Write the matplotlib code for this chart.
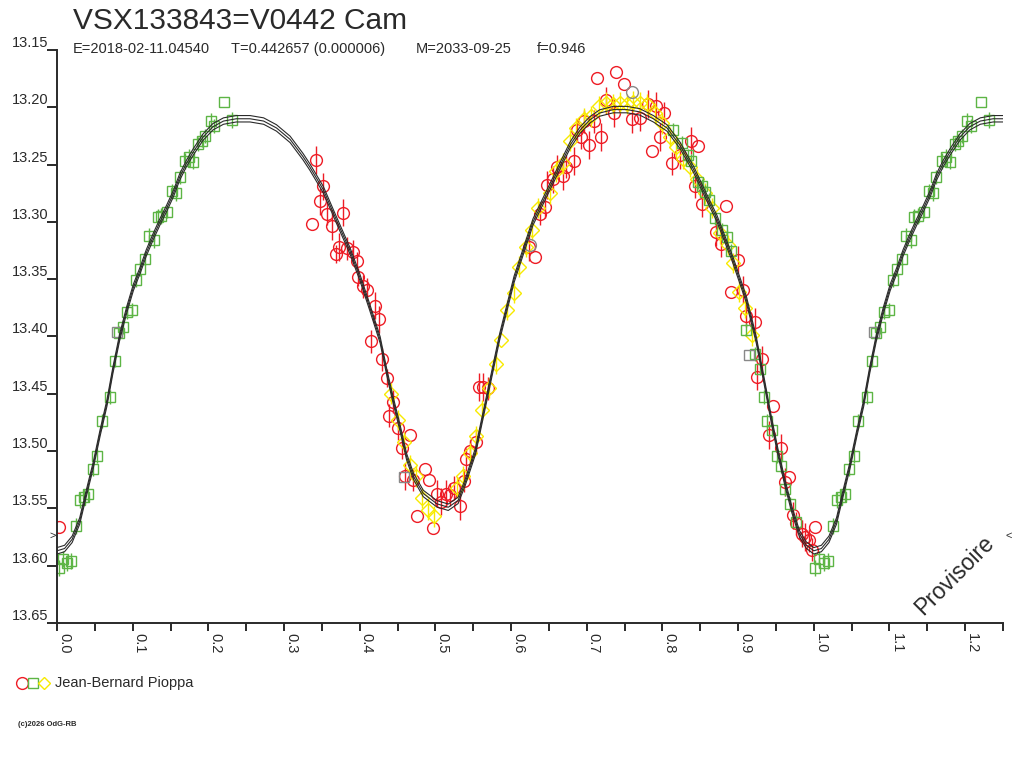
import numpy as np
import matplotlib
matplotlib.use('Agg')
import matplotlib.pyplot as plt

plt.rcParams['font.family'] = ['Liberation Sans', 'DejaVu Sans']

# ─── DATA ────────────────────────────────────────────
# fitted light curve (phase, mag), one cycle
curve_phase = [0.000, 0.010, 0.020, 0.030, 0.039, 0.048, 0.057, 0.066, 0.074, 0.083,
               0.092, 0.101, 0.110, 0.118, 0.127, 0.136, 0.145, 0.154, 0.162, 0.171,
               0.180, 0.193, 0.206, 0.220, 0.237, 0.255, 0.273, 0.290, 0.308, 0.325,
               0.334, 0.352, 0.369, 0.387, 0.400, 0.413, 0.427, 0.436, 0.444, 0.453,
               0.462, 0.471, 0.484, 0.502, 0.517, 0.530, 0.539, 0.553, 0.569, 0.585,
               0.604, 0.629, 0.664, 0.678, 0.691, 0.704, 0.717, 0.735, 0.753, 0.770,
               0.788, 0.806, 0.823, 0.841, 0.858, 0.872, 0.893, 0.911, 0.924, 0.935,
               0.944, 0.953, 0.962, 0.971, 0.981, 0.990, 1.000]
curve_mag = [13.587, 13.585, 13.577, 13.561, 13.536, 13.512, 13.484, 13.458, 13.429, 13.400,
             13.377, 13.357, 13.342, 13.327, 13.313, 13.300, 13.288, 13.275, 13.261, 13.249,
             13.239, 13.226, 13.217, 13.212, 13.210, 13.210, 13.212, 13.218, 13.228, 13.243,
             13.252, 13.272, 13.298, 13.325, 13.348, 13.374, 13.403, 13.432, 13.455, 13.479,
             13.505, 13.522, 13.537, 13.546, 13.549, 13.543, 13.528, 13.500, 13.450, 13.400,
             13.350, 13.300, 13.252, 13.233, 13.220, 13.211, 13.205, 13.202, 13.202, 13.204,
             13.210, 13.218, 13.233, 13.254, 13.278, 13.297, 13.333, 13.368, 13.403, 13.441,
             13.473, 13.502, 13.528, 13.551, 13.572, 13.582, 13.587]
curve_spread = 0.0028

red_phase = [0.002, 0.337, 0.342, 0.347, 0.352, 0.357, 0.363, 0.369, 0.373, 0.378,
             0.383, 0.391, 0.396, 0.398, 0.404, 0.410, 0.415, 0.420, 0.425, 0.430,
             0.436, 0.439, 0.444, 0.450, 0.456, 0.460, 0.466, 0.471, 0.476, 0.486,
             0.492, 0.497, 0.502, 0.508, 0.514, 0.519, 0.525, 0.533, 0.538, 0.541,
             0.546, 0.553, 0.557, 0.563, 0.570, 0.624, 0.631, 0.638, 0.645, 0.648,
             0.655, 0.661, 0.668, 0.673, 0.683, 0.687, 0.693, 0.697, 0.703, 0.710,
             0.714, 0.719, 0.725, 0.736, 0.739, 0.749, 0.760, 0.771, 0.781, 0.786,
             0.792, 0.797, 0.802, 0.812, 0.823, 0.838, 0.843, 0.847, 0.852, 0.871,
             0.878, 0.884, 0.890, 0.900, 0.907, 0.910, 0.922, 0.925, 0.932, 0.941,
             0.946, 0.956, 0.962, 0.967, 0.973, 0.977, 0.984, 0.989, 0.994, 0.998]
red_mag = [13.566, 13.302, 13.246, 13.282, 13.269, 13.293, 13.304, 13.328, 13.322, 13.292,
           13.323, 13.326, 13.334, 13.348, 13.356, 13.359, 13.404, 13.373, 13.385, 13.420,
           13.436, 13.469, 13.457, 13.480, 13.497, 13.522, 13.486, 13.525, 13.557, 13.516,
           13.525, 13.567, 13.537, 13.544, 13.537, 13.538, 13.532, 13.548, 13.526, 13.507,
           13.500, 13.492, 13.444, 13.444, 13.445, 13.322, 13.331, 13.293, 13.287, 13.268,
           13.263, 13.252, 13.260, 13.252, 13.247, 13.220, 13.226, 13.212, 13.233, 13.212,
           13.174, 13.226, 13.194, 13.205, 13.169, 13.180, 13.210, 13.209, 13.197, 13.238,
           13.199, 13.226, 13.205, 13.249, 13.242, 13.229, 13.269, 13.234, 13.284, 13.309,
           13.319, 13.286, 13.361, 13.333, 13.359, 13.382, 13.387, 13.435, 13.420, 13.486,
           13.461, 13.497, 13.527, 13.523, 13.556, 13.563, 13.572, 13.575, 13.578, 13.586]
red_err = [0, 0, 0.012, 0.012, 0.012, 0.010, 0.012, 0.008, 0.012, 0.012,
           0.010, 0.010, 0.008, 0.008, 0.010, 0.010, 0.010, 0.012, 0.012, 0.010,
           0.008, 0.010, 0.010, 0.010, 0.010, 0.012, 0, 0.010, 0, 0,
           0, 0, 0.012, 0.012, 0.012, 0.010, 0.010, 0.012, 0.010, 0.010,
           0.010, 0.010, 0.012, 0.012, 0.010, 0.012, 0, 0.010, 0.010, 0.012,
           0.012, 0.010, 0.012, 0.010, 0.012, 0.010, 0.010, 0.010, 0.012, 0.010,
           0, 0.012, 0.012, 0.012, 0, 0, 0.012, 0.012, 0.012, 0,
           0.012, 0.012, 0.010, 0.010, 0.012, 0.012, 0.010, 0, 0.012, 0.012,
           0.012, 0, 0, 0.012, 0.012, 0.010, 0.012, 0.012, 0.012, 0.012,
           0, 0.012, 0.012, 0, 0.012, 0.010, 0.012, 0.012, 0.010, 0.010]

green_phase = [0.002, 0.0075, 0.013, 0.0185, 0.025, 0.030, 0.036, 0.041, 0.047, 0.053,
               0.059, 0.070, 0.077, 0.082, 0.087, 0.093, 0.099, 0.104, 0.110, 0.116,
               0.122, 0.128, 0.133, 0.138, 0.145, 0.152, 0.157, 0.162, 0.169, 0.175,
               0.180, 0.186, 0.191, 0.196, 0.203, 0.208, 0.221, 0.231,
               0.814, 0.826, 0.834, 0.838, 0.847, 0.852, 0.856, 0.862, 0.869, 0.879,
               0.885, 0.891, 0.911, 0.922, 0.929, 0.934, 0.938, 0.945, 0.951, 0.956,
               0.962, 0.968, 0.977]
green_mag = [13.602, 13.594, 13.598, 13.596, 13.565, 13.543, 13.540, 13.537, 13.516, 13.504,
             13.474, 13.453, 13.421, 13.397, 13.392, 13.379, 13.377, 13.351, 13.341, 13.332,
             13.312, 13.316, 13.296, 13.295, 13.291, 13.273, 13.275, 13.261, 13.247, 13.243,
             13.248, 13.232, 13.229, 13.225, 13.212, 13.216, 13.195, 13.211,
             13.220, 13.231, 13.242, 13.247, 13.265, 13.269, 13.274, 13.281, 13.297, 13.307,
             13.313, 13.325, 13.394, 13.415, 13.428, 13.453, 13.474, 13.482, 13.504, 13.513,
             13.533, 13.546, 13.562]
green_err = [0.007, 0.007, 0.007, 0.007, 0.007, 0.007, 0.007, 0.007, 0.006, 0.006,
             0.006, 0.006, 0.006, 0.006, 0.006, 0.006, 0.006, 0.006, 0.006, 0.006,
             0.007, 0.007, 0.007, 0.007, 0.006, 0.006, 0.007, 0.006, 0.007, 0.007,
             0.006, 0.006, 0.006, 0.006, 0.007, 0.006, 0, 0.007,
             0.006, 0.006, 0.006, 0.006, 0.006, 0.006, 0.006, 0.006, 0.006, 0.006,
             0.006, 0.006, 0.006, 0.006, 0.006, 0.006, 0.006, 0.006, 0.006, 0.006,
             0.006, 0.006, 0.006]

yellow_phase = [0.441, 0.450, 0.459, 0.467, 0.475, 0.482, 0.490, 0.498, 0.528, 0.537,
                0.546, 0.554, 0.562, 0.571, 0.580, 0.587, 0.595, 0.604, 0.611, 0.620,
                0.627, 0.636, 0.651, 0.660, 0.669, 0.678, 0.686, 0.696, 0.705, 0.716,
                0.726, 0.735, 0.744, 0.753, 0.761, 0.770, 0.779, 0.790, 0.799, 0.810,
                0.818, 0.827, 0.836, 0.846, 0.856, 0.865, 0.876, 0.887, 0.893, 0.901,
                0.909, 0.918]
yellow_mag = [13.450, 13.473, 13.492, 13.512, 13.522, 13.541, 13.551, 13.557, 13.532, 13.522,
              13.502, 13.487, 13.464, 13.445, 13.424, 13.403, 13.377, 13.362, 13.339, 13.322,
              13.307, 13.288, 13.275, 13.256, 13.249, 13.229, 13.218, 13.210, 13.208, 13.199,
              13.196, 13.197, 13.196, 13.197, 13.195, 13.196, 13.197, 13.205, 13.214, 13.226,
              13.235, 13.245, 13.252, 13.263, 13.275, 13.288, 13.310, 13.320, 13.336, 13.361,
              13.375, 13.399]
yellow_err = [0.009, 0.009, 0.009, 0.009, 0.009, 0.009, 0.009, 0.009, 0.009, 0.009,
              0.009, 0.009, 0.009, 0.009, 0.009, 0, 0.009, 0.009, 0.009, 0.009,
              0.009, 0.009, 0.009, 0.009, 0.009, 0.009, 0.009, 0.009, 0.009, 0.009,
              0.009, 0.009, 0.009, 0.009, 0.009, 0.009, 0.009, 0.009, 0.009, 0.009,
              0.009, 0.009, 0.009, 0.009, 0.009, 0.009, 0.009, 0.009, 0.009, 0.009,
              0.009, 0.009]

grey_sq_phase = [0.079, 0.458, 0.915]
grey_sq_mag = [13.396, 13.523, 13.416]
grey_ci_phase = [0.625, 0.760]
grey_ci_mag = [13.320, 13.187]

x_ticks = np.arange(0, 1.2501, 0.05)
x_labels = ['0.0', '0.1', '0.2', '0.3', '0.4', '0.5', '0.6', '0.7', '0.8', '0.9', '1.0', '1.1', '1.2']
y_ticks = np.arange(13.15, 13.6501, 0.05)

RED = '#ee1c25'
GREEN = '#5db545'
YELLOW = '#f7ea00'
GREY = '#888888'
INK = '#2a2a2a'


def wrap(ph, mg, err=None, upto=0.28):
    # phases before 0.28 are shown again one cycle later
    ph = np.asarray(ph, float)
    mg = np.asarray(mg, float)
    sel = ph <= upto
    ph2 = np.concatenate([ph, ph[sel] + 1.0])
    mg2 = np.concatenate([mg, mg[sel]])
    if err is None:
        return ph2, mg2
    err = np.asarray(err, float)
    return ph2, mg2, np.concatenate([err, err[sel]])


# ─── FIGURE ──────────────────────────────────────────
fig = plt.figure(figsize=(10.24, 7.68), dpi=100)
ax = fig.add_axes([57 / 1024, 1 - 623 / 768, 946 / 1024, 573 / 768])

series = [
    (red_phase, red_mag, red_err, RED, 'o', 8.5),
    (yellow_phase, yellow_mag, yellow_err, YELLOW, 'D', 6.8),
    (green_phase, green_mag, green_err, GREEN, 's', 7.0),
]
for ph, mg, er, col, mk, ms in series:
    p, m, e = wrap(ph, mg, er)
    has = e > 0
    ax.errorbar(p[has], m[has], yerr=e[has], fmt='none', ecolor=col, elinewidth=1.0, zorder=2)
    ax.plot(p, m, linestyle='none', marker=mk, ms=ms, mfc='none', mec=col, mew=1.0, zorder=2)

p, m = wrap(grey_sq_phase, grey_sq_mag)
ax.plot(p, m, linestyle='none', marker='s', ms=7, mfc='none', mec=GREY, mew=1.0, zorder=2)
p, m = wrap(grey_ci_phase, grey_ci_mag)
ax.plot(p, m, linestyle='none', marker='o', ms=8.5, mfc='none', mec=GREY, mew=1.0, zorder=2)

# model curve with its envelope
cp, cm = wrap(curve_phase[:-1], curve_mag[:-1], upto=0.26)
order = np.argsort(cp)
cp, cm = cp[order], cm[order]
for off in (-curve_spread, 0.0, curve_spread):
    ax.plot(cp, cm + off, color=INK, lw=0.8, zorder=3)

ax.set_xlim(0, 1.25)
ax.set_ylim(13.65, 13.15)

for s in ['top', 'right']:
    ax.spines[s].set_visible(False)
for s in ['left', 'bottom']:
    ax.spines[s].set_color(INK)
    ax.spines[s].set_linewidth(1.4)

ax.set_xticks(x_ticks)
ax.set_yticks(y_ticks)
ax.tick_params(axis='x', direction='out', length=6, width=1.4, color=INK, labelbottom=False)
ax.tick_params(axis='y', direction='out', length=7.5, width=1.4, color=INK, labelleft=False)

for val in y_ticks:
    ax.text(-0.0095, val, f'{val:.2f}', transform=ax.get_yaxis_transform(),
            ha='right', va='bottom', fontsize=10.5, color=INK)
for i, lab in enumerate(x_labels):
    ax.text(i * 0.1, -0.017, lab, transform=ax.get_xaxis_transform(),
            rotation=270, ha='left', va='top', fontsize=10.5, color=INK)

# side markers and watermark
ax.text(-0.001, 0.152, '>', transform=ax.transAxes, ha='right', va='center', fontsize=8, color=INK)
ax.text(1.003, 0.152, '<', transform=ax.transAxes, ha='left', va='center', fontsize=8, color=INK)
fig.text(955 / 1024, 1 - 575 / 768, 'Provisoire', rotation=45, ha='center', va='center',
         fontsize=16.5, color=INK)

# titles
fig.text(73 / 1024, 1 - 29 / 768, 'VSX133843=V0442 Cam', fontsize=21.5, color=INK,
         ha='left', va='baseline')
for xpx, txt in [(73, 'E=2018-02-11.04540'), (231, 'T=0.442657 (0.000006)'),
                 (416, 'M=2033-09-25'), (537, 'f=0.946')]:
    fig.text(xpx / 1024, 1 - 53 / 768, txt, fontsize=10.5, color=INK, ha='left', va='baseline')

# observer legend
for xpx, mk, col, ms in [(22, 'o', RED, 8.5), (33, 's', GREEN, 6.5), (44, 'D', YELLOW, 6.0)]:
    fig.lines.append(plt.Line2D([xpx / 1024], [1 - 683 / 768], marker=mk, ms=ms, mfc='none',
                                mec=col, mew=1.0, linestyle='none', transform=fig.transFigure))
fig.text(55 / 1024, 1 - 683 / 768, 'Jean-Bernard Pioppa', fontsize=10.5, color=INK,
         ha='left', va='center')
fig.text(18 / 1024, 1 - 725 / 768, '(c)2026 OdG-RB', fontsize=5.5, color=INK,
         ha='left', va='center', fontweight='bold')

plt.savefig('out.png', dpi=100)
